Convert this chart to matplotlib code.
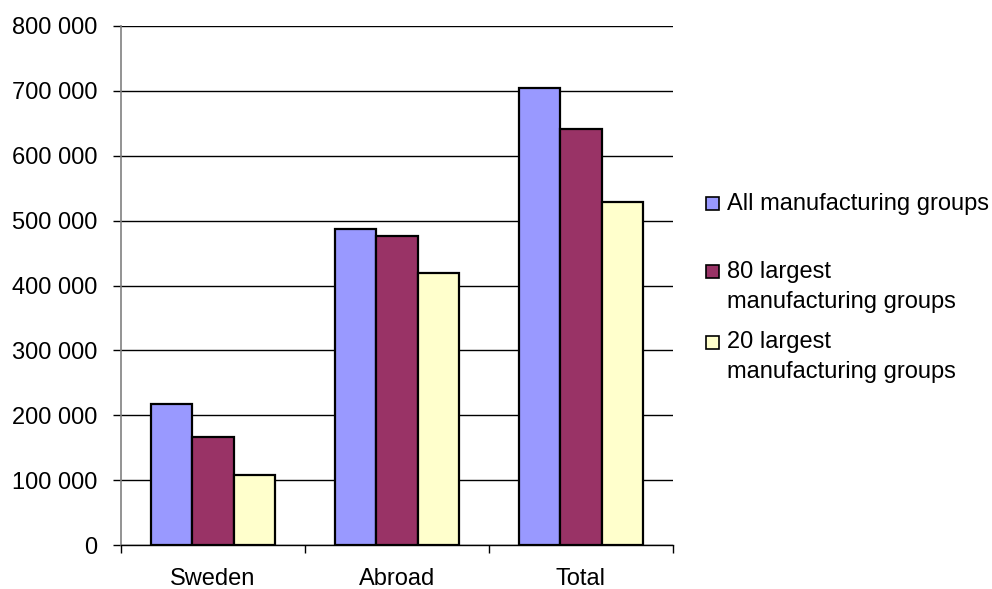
import matplotlib
matplotlib.use('Agg')
import matplotlib.pyplot as plt
from matplotlib.patches import Rectangle
from matplotlib.ticker import FuncFormatter, FixedLocator
import numpy as np

plt.rcParams['font.family'] = ['Liberation Sans', 'DejaVu Sans']

# data
categories = ['Sweden', 'Abroad', 'Total']
series_names = ['All manufacturing groups',
                '80 largest\nmanufacturing groups',
                '20 largest\nmanufacturing groups']
all_groups = [217000, 487000, 704000]
largest_80 = [167000, 476000, 642000]
largest_20 = [108000, 420000, 528000]
colors = ['#9999FF', '#993366', '#FFFFCC']
yticks = np.arange(0, 800001, 100000)

fig = plt.figure(figsize=(9.92, 5.89), dpi=100)
ax = fig.add_axes([121 / 992, 44 / 589, 552 / 992, 519 / 589])

x = np.arange(len(categories))
w = 0.223
for i, (vals, c) in enumerate(zip([all_groups, largest_80, largest_20], colors)):
    ax.bar(x + (i - 1) * w, vals, w, color=c, edgecolor='black', linewidth=1.6, zorder=3)

ax.set_xlim(-0.5, 2.5)
ax.set_ylim(0, 800000)
ax.set_yticks(yticks)
ax.yaxis.set_major_formatter(FuncFormatter(lambda v, p: f'{int(v):,}'.replace(',', ' ')))
ax.yaxis.grid(True, color='black', linewidth=1.0, zorder=0)
ax.set_axisbelow(True)

ax.set_xticks(x)
ax.set_xticklabels(categories)
ax.xaxis.set_minor_locator(FixedLocator([-0.5, 0.5, 1.5, 2.5]))
ax.tick_params(axis='x', which='major', length=0, pad=16.5, labelsize=17)
ax.tick_params(axis='x', which='minor', length=6, width=1, color='black')
ax.tick_params(axis='y', length=6, width=1, pad=11, labelsize=17)

for s in ['top', 'right']:
    ax.spines[s].set_visible(False)
ax.spines['left'].set_color('#808080')
ax.spines['left'].set_linewidth(1.2)
ax.spines['bottom'].set_color('black')
ax.spines['bottom'].set_linewidth(1.0)

# legend drawn by hand (handle next to the first line of each label)
W, H = 992, 589
sq_centers = [203, 271, 342.5]
baselines = [210, 278, 348]
for name, c, yc, yb in zip(series_names, colors, sq_centers, baselines):
    fig.patches.append(Rectangle((706 / W, 1 - (yc + 6.5) / H), 13 / W, 13 / H,
                                 transform=fig.transFigure, facecolor=c,
                                 edgecolor='black', linewidth=1.2))
    for k, line in enumerate(name.split('\n')):
        fig.text(727 / W, 1 - (yb + k * 30) / H, line, fontsize=17,
                 va='baseline', ha='left')

fig.savefig('out.png', dpi=100)
